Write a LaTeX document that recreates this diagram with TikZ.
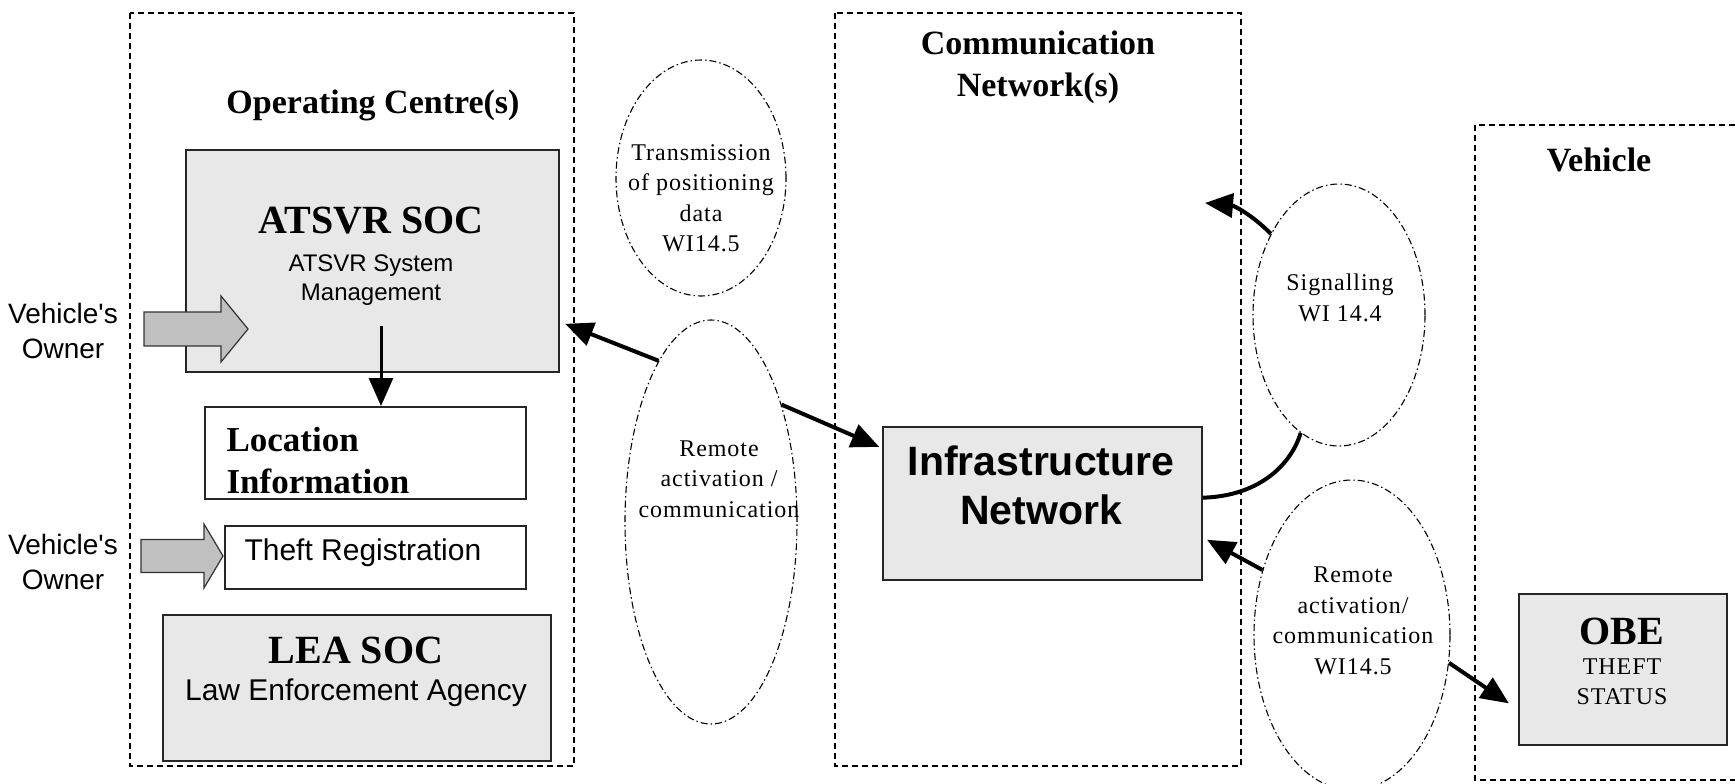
\documentclass[tikz,border=0pt]{standalone}
\usepackage{fontspec}
\setmainfont{Liberation Serif}
\setsansfont{Liberation Sans}
\newfontfamily\notefont[LetterSpace=4]{Liberation Serif}
\usetikzlibrary{shapes.geometric,arrows.meta}
\definecolor{boxgrey}{RGB}{232,232,232}
\definecolor{ownergrey}{RGB}{192,192,192}

\begin{document}
\begin{tikzpicture}[x=1pt, y=-1pt,
  group/.style={draw, line width=1.6pt, dash pattern=on 6pt off 4pt},
  box/.style={draw=black!85, line width=1.6pt, anchor=north west, inner sep=0pt},
  greybox/.style={box, fill=boxgrey},
  bubble/.style={draw, ellipse, line width=1.1pt, dash pattern=on 7pt off 3pt on 1.5pt off 3pt, inner sep=0pt},
  flow/.style={line width=4pt, -{Triangle[length=28pt,width=24pt]}},
  owner/.style={draw=black!80, line width=1.2pt, fill=ownergrey, line join=miter},
  head/.style={font=\fontsize{34}{42}\selectfont\bfseries, align=center},
  big/.style={font=\fontsize{40}{44}\selectfont\bfseries},
  plain/.style={font=\sffamily\fontsize{30}{34}\selectfont},
  small/.style={font=\sffamily\fontsize{24}{29}\selectfont, align=center},
  who/.style={font=\sffamily\fontsize{28}{35}\selectfont, align=center},
  note/.style={font=\notefont\fontsize{24}{30.5}\selectfont, align=center}]

  % Frame
  \useasboundingbox (0,0) rectangle (1735,784);
  \fill[white] (0,0) rectangle (1735,784);
  \clip (0,0) rectangle (1735,784);

  % Operating Centre(s)
  \draw[group] (130,13) rectangle (574,766);
  \node[head] (optitle) at (373,105) {Operating Centre(s)};

  \node[greybox, minimum width=373pt, minimum height=222pt] (atsvr) at (185,149) {};
  \node[big] (atsvrname) at (371,221) {ATSVR SOC};
  \node[small] (atsvrsub) at (371,280) {ATSVR System\\Management};

  \node[box, minimum width=321pt, minimum height=92pt] (loc) at (204,406) {};
  \node[font=\fontsize{35}{42}\selectfont\bfseries, align=left, anchor=west] (loctxt) at (223,461) {Location\\Information};

  \node[box, minimum width=301pt, minimum height=63pt] (theft) at (224,525) {};
  \node[plain, anchor=west] (thefttxt) at (241,553) {Theft Registration};

  \node[greybox, minimum width=388pt, minimum height=146pt] (lea) at (162,614) {};
  \node[big] (leaname) at (356,650) {LEA SOC};
  \node[plain] (leasub) at (356,693) {Law Enforcement Agency};

  % Vehicle's owner inputs
  \draw[owner] (144,312) -- (221,312) -- (221,296) -- (248,329) -- (221,362) -- (221,346) -- (144,346) -- cycle;
  \node[who] (owner1) at (63,331) {Vehicle\textquotesingle s\\Owner};
  \draw[owner] (141,539.5) -- (204,539.5) -- (204,524) -- (223,556) -- (204,588) -- (204,572.5) -- (141,572.5) -- cycle;
  \node[who] (owner2) at (63,561.5) {Vehicle\textquotesingle s\\Owner};

  \coordinate (mgmt) at (381,326);
  \draw[flow, line width=3pt] (mgmt) -- (mgmt |- loc.north);

  % Communication Network(s)
  \draw[group] (835,13) rectangle (1241,766);
  \node[head] (comtitle) at (1038,67.5) {Communication\\Network(s)};
  \node[greybox, minimum width=319pt, minimum height=153pt] (infra) at (882,426) {};
  \node[font=\sffamily\bfseries\fontsize{41}{49}\selectfont, align=center] (infratxt) at (1041,485.5) {Infrastructure\\Network};

  % Vehicle
  \draw[group] (1475,125) rectangle (1760,780);
  \node[head] (vehtitle) at (1599,160) {Vehicle};
  \node[greybox, minimum width=208pt, minimum height=151pt] (obe) at (1518,593) {};
  \node[big] (obename) at (1622,631) {OBE};
  \node[note] (obesub) at (1622,682) {THEFT\\STATUS};

  % Work items
  \node[bubble, minimum width=170pt, minimum height=236pt] (trans) at (701,178) {};
  \node[note] (transtxt) at (701,198) {Transmission\\of positioning\\data\\WI14.5};
  \node[bubble, minimum width=172pt, minimum height=404pt] (remL) at (711,522) {};
  \node[note] (remLtxt) at (719,479) {Remote\\activation /\\communication};
  \node[bubble, minimum width=172pt, minimum height=262pt] (sig) at (1339,315) {};
  \node[note] (sigtxt) at (1340,298) {Signalling\\WI 14.4};
  \node[bubble, minimum width=196pt, minimum height=310pt] (remR) at (1352,635) {};
  \node[note] (remRtxt) at (1353,621) {Remote\\activation/\\communication\\WI14.5};

  % Links
  \draw[flow, shorten >=6pt] (remL.108) -- (atsvr.-18);
  \draw[flow, shorten >=3pt] (remL.59) -- (infra.161);
  \draw[line width=4pt] (infra.2) .. controls (1262,496) and (1292,462) .. (sig.252);
  \coordinate (sigout) at (1205,203);
  \draw[flow] (sig.130) to[bend right=20] (sigout);
  \draw[flow, shorten >=5pt] (remR.144) -- (infra.-12);
  \draw[flow, shorten >=11pt] (remR.-16) -- (obe.201);

\end{tikzpicture}
\end{document}
